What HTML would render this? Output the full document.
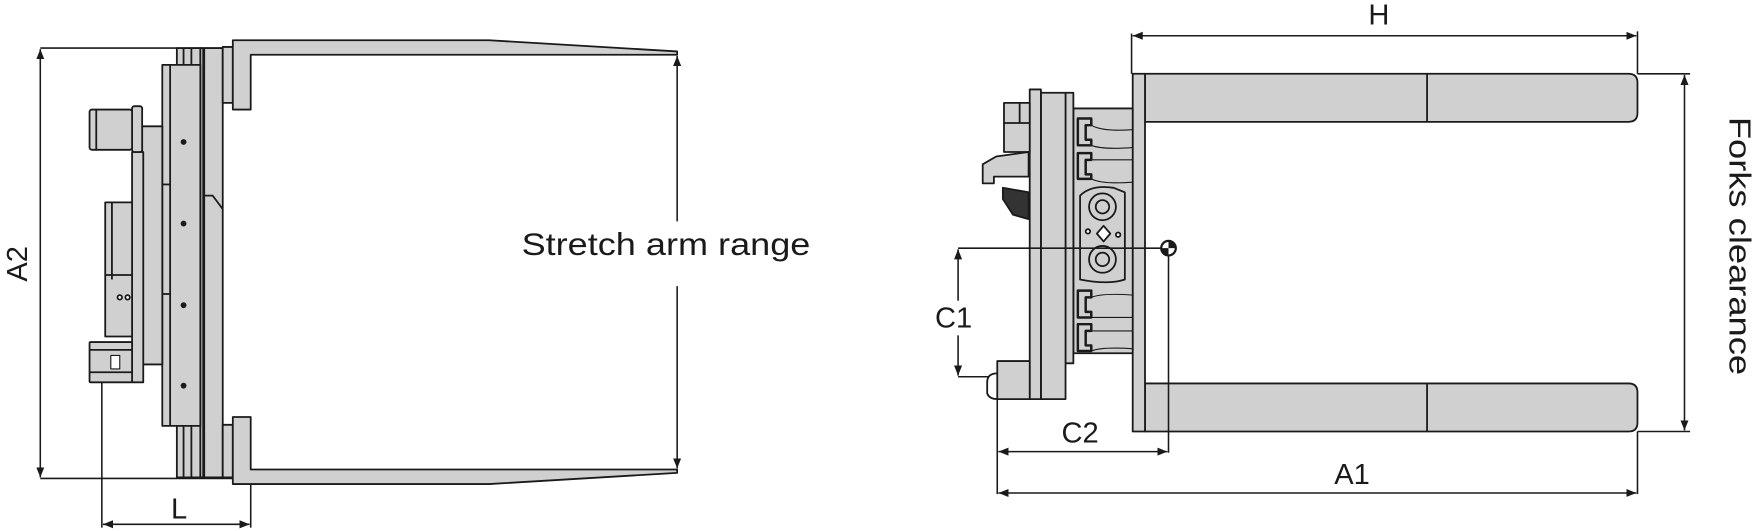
<!DOCTYPE html>
<html><head><meta charset="utf-8"><style>
html,body{margin:0;padding:0;background:#fff;}
svg{display:block;}
text{font-family:"Liberation Sans",Arial,sans-serif;fill:#1a1a1a;}
</style></head><body>
<svg width="1755" height="531" viewBox="0 0 1568 475" preserveAspectRatio="none" xmlns="http://www.w3.org/2000/svg">
<defs>
<marker id="a" viewBox="0 0 10 10" refX="10" refY="5" markerWidth="9" markerHeight="9" markerUnits="userSpaceOnUse" orient="auto-start-reverse"><path d="M0,1 L10,5 L0,9 z" fill="#1a1a1a"/></marker>
</defs>
<g stroke="#1a1a1a" stroke-width="1.6" fill="#d0d0d0" stroke-linejoin="round">
<!-- LEFT DRAWING -->
<!-- column strips -->
<rect x="158" y="43" width="21" height="384"/>
<line x1="164" y1="43" x2="164" y2="427"/><line x1="171" y1="43" x2="171" y2="427"/>
<rect x="179" y="43" width="20" height="384"/>
<line x1="182" y1="43" x2="182" y2="427" stroke-width="2.5"/>
<path d="M182,175 L190,175 L199,187" fill="none"/>
<rect x="199" y="42" width="9" height="50"/>
<rect x="199" y="380" width="9" height="47"/>
<!-- main plate -->
<rect x="145" y="58" width="34" height="323"/>
<line x1="152" y1="58" x2="152" y2="381"/>
<line x1="145" y1="165" x2="152" y2="165"/><line x1="145" y1="263" x2="152" y2="263"/>
<g fill="#1a1a1a" stroke="none">
<circle cx="164" cy="127" r="2.6"/><circle cx="164" cy="200" r="2.6"/><circle cx="164" cy="273" r="2.6"/><circle cx="164" cy="345" r="2.6"/>
</g>
<!-- panel and frame -->
<rect x="127" y="113" width="18" height="213"/>
<rect x="118" y="136" width="10" height="206"/>
<rect x="118" y="95" width="9" height="41" rx="2"/>
<rect x="80" y="98" width="38" height="36" rx="2"/>
<line x1="86" y1="98" x2="86" y2="134"/>
<rect x="94" y="181" width="24" height="120"/>
<line x1="100" y1="181" x2="100" y2="250"/>
<line x1="94" y1="246" x2="118" y2="246"/>
<circle cx="107" cy="266" r="2" fill="#fff"/><circle cx="114" cy="266" r="2" fill="#fff"/>
<rect x="80" y="306" width="38" height="36" rx="1"/>
<line x1="80" y1="313" x2="118" y2="313"/><line x1="80" y1="333" x2="118" y2="333"/>
<rect x="99" y="318" width="8" height="12" fill="#fff" stroke-width="1"/>
<!-- forks arms -->
<path d="M208,36 L437,36 L605,46 L605,49 L224,49 L224,98 L208,98 Z"/>
<path d="M208,373 L224,373 L224,420 L605,420 L605,423 L437,433 L208,433 Z"/>
</g>
<g stroke="#1a1a1a" stroke-width="1.4" fill="none">
<!-- A2 -->
<line x1="36" y1="43" x2="158" y2="43"/>
<line x1="36" y1="428" x2="208" y2="428"/>
<line x1="36" y1="44" x2="36" y2="427" marker-start="url(#a)" marker-end="url(#a)"/>
<!-- stretch -->
<line x1="605" y1="50" x2="605" y2="198" marker-start="url(#a)"/>
<line x1="605" y1="256" x2="605" y2="419" marker-end="url(#a)"/>
<!-- L -->
<line x1="91" y1="342" x2="91" y2="472"/>
<line x1="224" y1="433" x2="224" y2="472"/>
<line x1="92" y1="469" x2="223" y2="469" marker-start="url(#a)" marker-end="url(#a)"/>
</g>
<text x="466" y="228" font-size="28.5" textLength="258" lengthAdjust="spacingAndGlyphs">Stretch arm range</text>
<text x="160" y="464" font-size="26" text-anchor="middle">L</text>
<text transform="translate(24,236) rotate(-90)" font-size="26" text-anchor="middle">A2</text>

<!-- RIGHT DRAWING -->
<g stroke="#1a1a1a" stroke-width="1.6" fill="#d0d0d0" stroke-linejoin="round">
<!-- forks -->
<path d="M1023,66 L1455,66 Q1463,66 1463,74 L1463,101 Q1463,109 1455,109 L1023,109 Z"/>
<line x1="1275" y1="66" x2="1275" y2="109"/>
<path d="M1023,343 L1455,343 Q1463,343 1463,351 L1463,378 Q1463,386 1455,386 L1023,386 Z"/>
<line x1="1275" y1="343" x2="1275" y2="386"/>
<rect x="1012" y="66" width="11" height="320"/>
<!-- gray block -->
<rect x="959" y="97" width="53" height="219"/>
<g fill="none" stroke-width="2.2">
<path d="M963,106 L975,106 L975,112 L970,112 L970,125 L975,125 L975,130 L963,130 Z"/>
<path d="M963,137 L975,137 L975,143 L970,143 L970,156 L975,156 L975,160 L963,160 Z"/>
<path d="M963,260 L975,260 L975,266 L970,266 L970,279 L975,279 L975,284 L963,284 Z"/>
<path d="M963,290 L975,290 L975,296 L970,296 L970,309 L975,309 L975,314 L963,314 Z"/>
</g>
<path d="M975,112 Q985,118 1012,116 M975,130 Q985,134 1012,132 M975,143 L1012,143 M975,160 Q985,165 1012,163 M975,266 Q985,262 1012,264 M975,284 L1012,284 M975,296 L1012,296 M975,314 Q985,310 1012,312" fill="none" stroke-width="1"/>
<path d="M965,175 Q975,165 995,168 L1005,172 L1005,250 Q990,255 965,250 Z"/>
<circle cx="985" cy="185" r="12" fill="none"/><circle cx="985" cy="185" r="6" fill="none"/>
<circle cx="985" cy="232" r="12" fill="none"/><circle cx="985" cy="232" r="6" fill="none"/>
<path d="M980,209 L986,202 L992,209 L986,216 Z" fill="#fff"/>
<circle cx="972" cy="207" r="2" fill="#fff"/><circle cx="999" cy="210" r="2" fill="#fff"/>
<!-- plates -->
<rect x="952" y="83" width="7" height="242"/>
<rect x="930" y="83" width="22" height="274"/>
<rect x="920" y="80" width="10" height="277"/>
<!-- top left block & hook -->
<rect x="897" y="92" width="23" height="44"/>
<line x1="897" y1="110" x2="920" y2="110"/><line x1="911" y1="92" x2="911" y2="110"/>
<path d="M919,136 L890,140 L878,147 L878,164 L888,164 L888,158 L919,158 Z"/>
<path d="M896,168 L919,172 L919,196 L905,192 L896,178 Z" fill="#333"/>
<!-- lower hook -->
<rect x="891" y="323" width="29" height="34"/>
<path d="M891,334 Q882,334 882,342 L882,352 Q884,357 891,357" fill="none"/>
</g>
<g stroke="#1a1a1a" stroke-width="1.4" fill="none">
<!-- C point -->
<line x1="856" y1="222" x2="1044" y2="222"/>
<line x1="1044" y1="222" x2="1044" y2="405"/>
<circle cx="1044" cy="222" r="6.5" fill="#fff" stroke-width="2"/>
<path d="M1044,222 L1044,215.5 A6.5,6.5 0 0 1 1050.5,222 Z M1044,222 L1037.5,222 A6.5,6.5 0 0 0 1044,228.5 Z" fill="#1a1a1a" stroke="none"/>
<!-- C1 -->
<line x1="856" y1="223" x2="856" y2="269" marker-start="url(#a)"/>
<line x1="856" y1="300" x2="856" y2="336" marker-end="url(#a)"/>
<line x1="856" y1="337" x2="884" y2="337"/>
<!-- C2 -->
<line x1="891" y1="357" x2="891" y2="442"/>
<line x1="892" y1="404" x2="1043" y2="404" marker-start="url(#a)" marker-end="url(#a)"/>
<!-- A1 -->
<line x1="1463" y1="386" x2="1463" y2="442"/>
<line x1="892" y1="441" x2="1462" y2="441" marker-start="url(#a)" marker-end="url(#a)"/>
<!-- H -->
<line x1="1011" y1="30" x2="1011" y2="66"/>
<line x1="1463" y1="28" x2="1463" y2="66"/>
<line x1="1012" y1="32" x2="1462" y2="32" marker-start="url(#a)" marker-end="url(#a)"/>
<!-- Forks clearance -->
<line x1="1463" y1="66" x2="1510" y2="66"/>
<line x1="1463" y1="386" x2="1510" y2="386"/>
<line x1="1505" y1="67" x2="1505" y2="385" marker-start="url(#a)" marker-end="url(#a)"/>
</g>
<text x="1232" y="22" font-size="26" text-anchor="middle">H</text>
<text x="852" y="293" font-size="26" text-anchor="middle">C1</text>
<text x="965" y="396" font-size="26" text-anchor="middle">C2</text>
<text x="1208" y="433" font-size="26" text-anchor="middle">A1</text>
<text transform="translate(1545,220) rotate(90)" font-size="27" text-anchor="middle" textLength="231" lengthAdjust="spacingAndGlyphs">Forks clearance</text>
</svg>
</body></html>
